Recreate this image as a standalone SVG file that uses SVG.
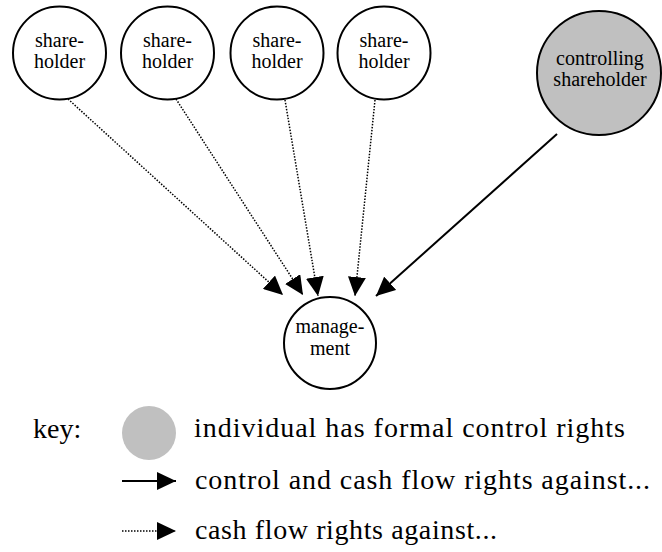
<svg xmlns="http://www.w3.org/2000/svg" width="662" height="552" viewBox="0 0 662 552">
<style>
.node circle{fill:#fff;stroke:#000;stroke-width:2}
.node.ctrl circle{fill:#c0c0c0}
text{font-family:Tinos,'Liberation Serif','Times New Roman',Times,'Nimbus Roman','Nimbus Roman No9 L','Noto Serif','DejaVu Serif',FreeSerif,serif}
.lbl{font-size:20px;text-anchor:middle;fill:#000}
.key{font-size:28px;fill:#000}
.solid{stroke:#000;stroke-width:2;fill:none}
.dot{stroke:#000;stroke-width:1.5;stroke-dasharray:1.5 1.5;fill:none}
</style>
<defs>
<marker id="ah" markerUnits="userSpaceOnUse" markerWidth="20" markerHeight="18" refX="19" refY="9" orient="auto" viewBox="0 0 20 18">
<path d="M0,0 L19,9 L0,18 z" fill="#000"/>
</marker>
</defs>
<g id="connectors">
<line class="dot" x1="68" y1="99" x2="283" y2="295" marker-end="url(#ah)"/>
<line class="dot" x1="176" y1="99" x2="303" y2="295" marker-end="url(#ah)"/>
<line class="dot" x1="285" y1="100" x2="318" y2="296" marker-end="url(#ah)"/>
<line class="dot" x1="375" y1="100" x2="355" y2="296" marker-end="url(#ah)"/>
<line class="solid" x1="557" y1="134" x2="376" y2="296" marker-end="url(#ah)"/>
</g>
<g id="sh1" class="node"><circle cx="59.5" cy="53" r="46.5"/><text class="lbl" x="59.5" y="47">share-</text><text class="lbl" x="59.5" y="68">holder</text></g>
<g id="sh2" class="node"><circle cx="167.5" cy="53" r="46.5"/><text class="lbl" x="167.5" y="47">share-</text><text class="lbl" x="167.5" y="68">holder</text></g>
<g id="sh3" class="node"><circle cx="277" cy="53" r="46.5"/><text class="lbl" x="277" y="47">share-</text><text class="lbl" x="277" y="68">holder</text></g>
<g id="sh4" class="node"><circle cx="384" cy="53" r="46.5"/><text class="lbl" x="384" y="47">share-</text><text class="lbl" x="384" y="68">holder</text></g>
<g id="ctrl" class="node ctrl"><circle cx="599" cy="73" r="62"/><text class="lbl" x="600" y="65">controlling</text><text class="lbl" x="600" y="86">shareholder</text></g>
<g id="mgmt" class="node"><circle cx="330" cy="343" r="46"/><text class="lbl" x="330" y="333">manage-</text><text class="lbl" x="330" y="355">ment</text></g>
<g id="legend">
<text class="key" x="33" y="438">key:</text>
<circle cx="149" cy="433" r="27" fill="#c0c0c0"/>
<text class="key" x="194" y="437" textLength="431" lengthAdjust="spacing">individual has formal control rights</text>
<line class="solid" x1="122" y1="481" x2="176" y2="481" marker-end="url(#ah)"/>
<text class="key" x="195" y="489" textLength="455" lengthAdjust="spacing">control and cash flow rights against...</text>
<line class="dot" x1="122" y1="531" x2="176" y2="531" marker-end="url(#ah)"/>
<text class="key" x="195" y="539" textLength="302" lengthAdjust="spacing">cash flow rights against...</text>
</g>
</svg>
